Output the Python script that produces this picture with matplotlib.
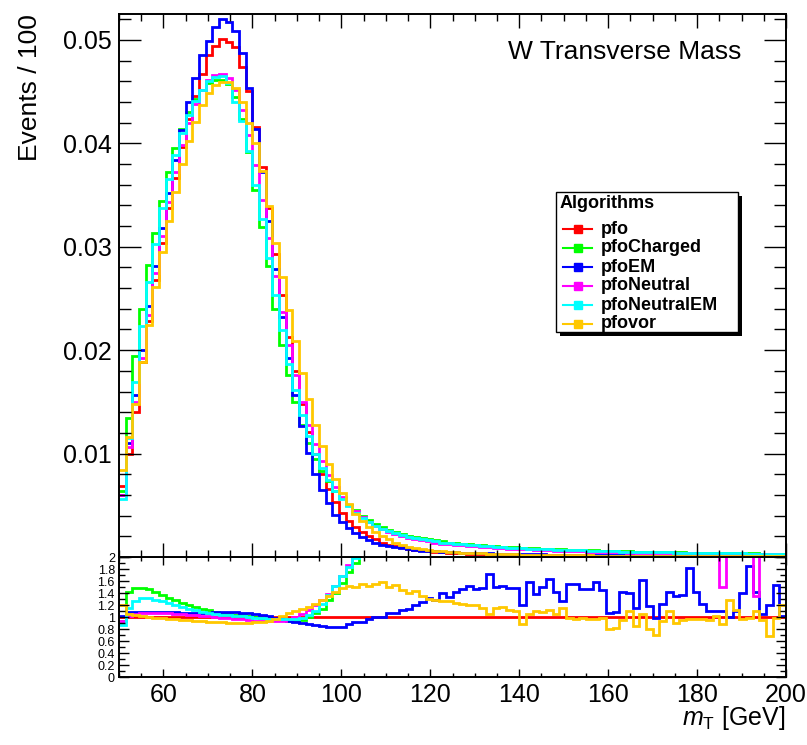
import matplotlib
matplotlib.use("Agg")
import matplotlib.pyplot as plt
from matplotlib.patches import Rectangle
from matplotlib.ticker import MultipleLocator
import numpy as np

plt.rcParams['font.family'] = ['Liberation Sans', 'DejaVu Sans']
plt.rcParams['mathtext.fontset'] = 'custom'
plt.rcParams['mathtext.it'] = 'Liberation Sans:italic'
plt.rcParams['mathtext.rm'] = 'Liberation Sans'

# 100 bins of 1.5 GeV from 50 to 200
edges = np.linspace(50, 200, 101)

names = ['pfo', 'pfoCharged', 'pfoEM', 'pfoNeutral', 'pfoNeutralEM', 'pfovor']
colors = ['#ff0000', '#00ff00', '#0000ff', '#ff00ff', '#00ffff', '#ffc800']

# normalised mT distributions (upper pad)
pfo = [0.0069, 0.0100, 0.0140, 0.0189, 0.0228, 0.0268, 0.0304, 0.0337, 0.0366, 0.0396,
       0.0423, 0.0446, 0.0467, 0.0485, 0.0494, 0.0501, 0.0498, 0.0493, 0.0474, 0.0451,
       0.0416, 0.0377, 0.0337, 0.0293, 0.0253, 0.0213, 0.0180, 0.0148, 0.0121, 0.0100,
       0.0080, 0.0066, 0.0053, 0.0043, 0.0035, 0.0029, 0.0024, 0.0020, 0.0017, 0.0014,
       0.0012, 0.00105, 0.00092, 0.00081, 0.00072, 0.00064, 0.00058, 0.00052, 0.00047, 0.00043,
       0.00039, 0.00036, 0.00033, 0.00031, 0.00029, 0.00027, 0.00025, 0.00024, 0.00022, 0.00021,
       0.00020, 0.00019, 0.00018, 0.00017, 0.00016, 0.00016, 0.00015, 0.00014, 0.00014, 0.00013,
       0.00013, 0.00012, 0.00012, 0.00011, 0.00011, 0.00011, 0.00010, 0.00010, 0.00010, 0.00009,
       0.00009, 0.00009, 0.00009, 0.00008, 0.00008, 0.00008, 0.00008, 0.00007, 0.00007, 0.00007,
       0.00007, 0.00007, 0.00006, 0.00006, 0.00006, 0.00006, 0.00006, 0.00006, 0.00005, 0.00005]

pfo_charged = [0.0064, 0.0134, 0.0194, 0.0240, 0.0282, 0.0313, 0.0344, 0.0372, 0.0395, 0.0414,
               0.0430, 0.0443, 0.0452, 0.0458, 0.0461, 0.0461, 0.0457, 0.0445, 0.0423, 0.0392,
               0.0355, 0.0319, 0.0281, 0.0240, 0.0205, 0.0176, 0.0150, 0.0128, 0.0110, 0.0095,
               0.0083, 0.0073, 0.0064, 0.0057, 0.0050, 0.0045, 0.0040, 0.0036, 0.0032, 0.0029,
               0.0026, 0.0024, 0.0022, 0.0020, 0.0019, 0.0018, 0.0017, 0.0016, 0.0015, 0.0014,
               0.00135, 0.0013, 0.00125, 0.0012, 0.00115, 0.0011, 0.00105, 0.0010, 0.00097, 0.00094,
               0.0009, 0.00087, 0.00084, 0.00081, 0.00078, 0.00076, 0.00073, 0.00071, 0.00069, 0.00067,
               0.00065, 0.00063, 0.00061, 0.00059, 0.00057, 0.00056, 0.00054, 0.00053, 0.00051, 0.0005,
               0.00049, 0.00047, 0.00046, 0.00045, 0.00044, 0.00043, 0.00042, 0.00041, 0.0004, 0.00039,
               0.00038, 0.00037, 0.00036, 0.00036, 0.00035, 0.00034, 0.00033, 0.00033, 0.00032, 0.00031]

pfo_em = [0.0060, 0.0110, 0.0157, 0.0200, 0.0243, 0.0281, 0.0318, 0.0352, 0.0384, 0.0413,
          0.0440, 0.0463, 0.0485, 0.0499, 0.0512, 0.0520, 0.0517, 0.0509, 0.0487, 0.0453,
          0.0414, 0.0372, 0.0325, 0.0278, 0.0232, 0.0192, 0.0157, 0.0127, 0.0101, 0.0080,
          0.0065, 0.0052, 0.0041, 0.0034, 0.0028, 0.0023, 0.0019, 0.0016, 0.0014, 0.0012,
          0.00105, 0.00093, 0.00083, 0.00075, 0.00068, 0.00062, 0.00058, 0.00054, 0.00050, 0.00047,
          0.00044, 0.00042, 0.00040, 0.00038, 0.00036, 0.00035, 0.00033, 0.00032, 0.00031, 0.00030,
          0.00028, 0.00027, 0.00026, 0.00025, 0.00024, 0.00023, 0.00022, 0.00021, 0.00020, 0.00019,
          0.00019, 0.00018, 0.00017, 0.00016, 0.00016, 0.00015, 0.00015, 0.00014, 0.00014, 0.00013,
          0.00013, 0.00013, 0.00012, 0.00012, 0.00012, 0.00011, 0.00011, 0.00011, 0.00010, 0.00010,
          0.00010, 0.00010, 0.00010, 0.00009, 0.00009, 0.00009, 0.00009, 0.00009, 0.00008, 0.00008]

pfo_neutral = [0.0060, 0.0106, 0.0150, 0.0192, 0.0234, 0.0275, 0.0310, 0.0343, 0.0372, 0.0398,
               0.0420, 0.0438, 0.0452, 0.0461, 0.0466, 0.0467, 0.0463, 0.0452, 0.0432, 0.0408,
               0.0379, 0.0345, 0.0308, 0.0272, 0.0237, 0.0205, 0.0176, 0.0150, 0.0128, 0.0109,
               0.0093, 0.0079, 0.0068, 0.0058, 0.0050, 0.0044, 0.0039, 0.0034, 0.0030, 0.0027,
               0.0024, 0.0022, 0.0020, 0.0018, 0.0017, 0.0016, 0.0015, 0.0014, 0.0013, 0.00125,
               0.0012, 0.00114, 0.00108, 0.00103, 0.00098, 0.00094, 0.0009, 0.00086, 0.00082, 0.00079,
               0.00076, 0.00073, 0.0007, 0.00067, 0.00065, 0.00062, 0.0006, 0.00058, 0.00056, 0.00054,
               0.00052, 0.0005, 0.00049, 0.00047, 0.00046, 0.00044, 0.00043, 0.00042, 0.00041, 0.0004,
               0.00039, 0.00038, 0.00037, 0.00036, 0.00035, 0.00034, 0.00033, 0.00032, 0.00031, 0.0003,
               0.0003, 0.00029, 0.00028, 0.00028, 0.00027, 0.00026, 0.00026, 0.00025, 0.00025, 0.00024]

pfo_neutral_em = [0.0056, 0.0115, 0.0169, 0.0223, 0.0266, 0.0303, 0.0337, 0.0365, 0.0389, 0.0410,
                  0.0427, 0.0441, 0.0452, 0.0460, 0.0464, 0.0465, 0.0458, 0.0440, 0.0422, 0.0393,
                  0.0360, 0.0327, 0.0289, 0.0253, 0.0219, 0.0187, 0.0161, 0.0137, 0.0117, 0.0100,
                  0.0086, 0.0074, 0.0064, 0.0056, 0.0049, 0.0043, 0.0038, 0.0034, 0.0030, 0.0027,
                  0.0025, 0.0023, 0.0021, 0.0019, 0.0018, 0.0017, 0.0016, 0.0015, 0.0014, 0.00135,
                  0.0013, 0.00124, 0.00118, 0.00113, 0.00108, 0.00103, 0.00099, 0.00095, 0.00091, 0.00088,
                  0.00085, 0.00082, 0.00079, 0.00076, 0.00073, 0.00071, 0.00069, 0.00067, 0.00065, 0.00063,
                  0.00061, 0.00059, 0.00057, 0.00055, 0.00054, 0.00052, 0.00051, 0.00049, 0.00048, 0.00047,
                  0.00046, 0.00045, 0.00044, 0.00043, 0.00042, 0.00041, 0.0004, 0.00039, 0.00038, 0.00037,
                  0.00036, 0.00035, 0.00035, 0.00034, 0.00033, 0.00032, 0.00032, 0.00031, 0.0003, 0.0003]

pfo_vor = [0.0084, 0.0116, 0.0148, 0.0189, 0.0224, 0.0261, 0.0295, 0.0325, 0.0353, 0.0380,
           0.0402, 0.0421, 0.0437, 0.0449, 0.0456, 0.0459, 0.0459, 0.0453, 0.0440, 0.0420,
           0.0400, 0.0373, 0.0339, 0.0304, 0.0271, 0.0239, 0.0209, 0.0178, 0.0153, 0.0128,
           0.0107, 0.0090, 0.0075, 0.0062, 0.0051, 0.0042, 0.0035, 0.0029, 0.0024, 0.0020,
           0.0017, 0.0014, 0.0012, 0.0010, 0.00088, 0.00077, 0.00068, 0.00061, 0.00055, 0.0005,
           0.00046, 0.00042, 0.00039, 0.00036, 0.00034, 0.00032, 0.0003, 0.00028, 0.00026, 0.00025,
           0.00024, 0.00023, 0.00022, 0.00021, 0.0002, 0.00019, 0.00018, 0.00017, 0.00016, 0.00016,
           0.00015, 0.00014, 0.00014, 0.00013, 0.00012, 0.00012, 0.00011, 0.00011, 0.0001, 0.0001,
           0.0001, 0.00009, 0.00009, 0.00009, 0.00008, 0.00008, 0.00008, 0.00008, 0.00007, 0.00007,
           0.00007, 0.00007, 0.00007, 0.00006, 0.00006, 0.00006, 0.00006, 0.00006, 0.00006, 0.00006]

# ratio to pfo (lower pad)
ratio_charged = [0.93, 1.42, 1.49, 1.48, 1.46, 1.42, 1.37, 1.32, 1.28, 1.24,
                 1.20, 1.17, 1.14, 1.11, 1.09, 1.07, 1.05, 1.04, 1.03, 1.01,
                 1.00, 0.98, 0.97, 0.96, 0.95, 0.94, 0.93, 0.95, 1.00, 1.06,
                 1.14, 1.28, 1.40, 1.56, 1.75, 1.90, 2.15, 2.4, 2.6, 2.8,
                 3.0, 3.1, 3.2, 3.3, 3.4, 3.5, 3.5, 3.6, 3.6, 3.7,
                 3.7, 3.8, 3.8, 3.8, 3.9, 3.9, 3.9, 4.0, 4.0, 4.0,
                 4.0, 4.0, 4.1, 4.1, 4.1, 4.1, 4.1, 4.1, 4.2, 4.2,
                 4.2, 4.2, 4.2, 4.2, 4.2, 4.2, 4.2, 4.2, 4.2, 4.2,
                 4.2, 4.2, 4.2, 4.2, 4.2, 4.2, 4.2, 4.2, 4.2, 4.2,
                 4.2, 4.2, 4.2, 4.2, 4.2, 4.2, 4.2, 4.2, 4.2, 4.2]

ratio_em = [1.02, 1.08, 1.09, 1.09, 1.09, 1.09, 1.08, 1.08, 1.08, 1.07,
            1.07, 1.07, 1.07, 1.07, 1.08, 1.08, 1.08, 1.08, 1.07, 1.06,
            1.05, 1.04, 1.02, 0.99, 0.96, 0.94, 0.92, 0.90, 0.88, 0.86,
            0.85, 0.83, 0.83, 0.84, 0.89, 0.92, 0.92, 0.96, 1.00, 1.00,
            1.07, 1.07, 1.12, 1.14, 1.20, 1.25, 1.32, 1.28, 1.40, 1.33,
            1.42, 1.47, 1.52, 1.46, 1.48, 1.72, 1.50, 1.52, 1.48, 1.48,
            1.20, 1.58, 1.38, 1.50, 1.64, 1.42, 1.27, 1.55, 1.55, 1.47,
            1.47, 1.58, 1.45, 1.07, 1.09, 1.42, 1.40, 1.15, 1.62, 1.18,
            0.98, 1.22, 1.42, 1.35, 1.37, 1.82, 1.42, 1.22, 1.10, 1.10,
            1.10, 1.00, 1.10, 1.40, 1.85, 1.42, 1.05, 1.20, 1.53, 1.02]

ratio_neutral = [0.93, 1.02, 1.05, 1.06, 1.07, 1.07, 1.06, 1.06, 1.05, 1.05,
                 1.04, 1.03, 1.02, 1.01, 1.00, 0.99, 0.98, 0.97, 0.96, 0.95,
                 0.94, 0.93, 0.93, 0.93, 0.94, 0.96, 1.00, 1.05, 1.12, 1.20,
                 1.28, 1.38, 1.52, 1.68, 1.86, 2.05, 2.3, 2.5, 2.7, 2.9,
                 3.0, 3.1, 3.2, 3.3, 3.4, 3.4, 3.5, 3.5, 3.6, 3.6,
                 3.6, 3.7, 3.7, 3.7, 3.8, 3.8, 3.8, 3.8, 3.9, 3.9,
                 3.9, 3.9, 3.9, 3.9, 4.0, 4.0, 4.0, 4.0, 4.0, 4.0,
                 4.0, 4.0, 4.0, 4.0, 4.0, 4.0, 4.0, 4.0, 4.0, 4.0,
                 4.0, 4.0, 4.0, 4.0, 4.0, 4.0, 4.0, 4.0, 4.0, 2.6,
                 1.50, 2.4, 4.0, 4.0, 2.5, 1.35, 2.5, 4.0, 4.0, 4.0]

ratio_neutral_em = [0.86, 1.15, 1.27, 1.32, 1.31, 1.29, 1.26, 1.23, 1.20, 1.17,
                    1.14, 1.11, 1.09, 1.07, 1.05, 1.04, 1.03, 1.02, 1.01, 1.00,
                    0.99, 0.98, 0.97, 0.97, 0.96, 0.96, 0.97, 0.99, 1.03, 1.10,
                    1.22, 1.36, 1.52, 1.68, 1.83, 1.99, 2.2, 2.4, 2.6, 2.8,
                    3.0, 3.1, 3.2, 3.3, 3.4, 3.4, 3.5, 3.5, 3.6, 3.6,
                    3.6, 3.7, 3.7, 3.7, 3.8, 3.8, 3.8, 3.8, 3.9, 3.9,
                    3.9, 3.9, 3.9, 3.9, 4.0, 4.0, 4.0, 4.0, 4.0, 4.0,
                    4.0, 4.0, 4.0, 4.0, 4.0, 4.0, 4.0, 4.0, 4.0, 4.0,
                    4.0, 4.0, 4.0, 4.0, 4.0, 4.0, 4.0, 4.0, 4.0, 4.0,
                    4.0, 4.0, 4.0, 4.0, 4.0, 4.0, 4.0, 4.0, 4.0, 4.0]

ratio_vor = [1.20, 1.05, 1.04, 1.02, 1.00, 0.99, 0.98, 0.97, 0.96, 0.95,
             0.95, 0.94, 0.93, 0.92, 0.92, 0.91, 0.90, 0.90, 0.90, 0.90,
             0.91, 0.92, 0.94, 0.97, 1.02, 1.07, 1.10, 1.13, 1.17, 1.22,
             1.28, 1.35, 1.42, 1.48, 1.52, 1.50, 1.55, 1.52, 1.55, 1.58,
             1.50, 1.53, 1.45, 1.40, 1.43, 1.35, 1.30, 1.28, 1.27, 1.27,
             1.24, 1.21, 1.20, 1.20, 1.15, 1.05, 1.15, 1.16, 1.12, 1.10,
             0.88, 1.05, 1.10, 1.08, 1.12, 1.05, 1.15, 0.98, 0.97, 0.98,
             0.96, 0.96, 0.99, 0.80, 0.82, 0.95, 1.10, 0.85, 1.05, 0.80,
             0.70, 0.93, 1.10, 0.90, 0.95, 0.97, 0.97, 0.97, 0.95, 1.02,
             0.88, 1.28, 1.12, 0.97, 0.98, 1.10, 0.95, 0.68, 0.98, 1.20]

series = [pfo, pfo_charged, pfo_em, pfo_neutral, pfo_neutral_em, pfo_vor]
ratios = [np.ones(len(pfo)), ratio_charged, ratio_em, ratio_neutral, ratio_neutral_em, ratio_vor]

W, H = 807, 745
fig = plt.figure(figsize=(W / 100, H / 100), dpi=100)


def pixel_axes(left, top, right, bottom):
    return fig.add_axes([left / W, 1 - bottom / H, (right - left) / W, (bottom - top) / H])


rax = pixel_axes(119, 557, 786, 677)
ax = pixel_axes(119, 14, 786, 557)

for vals, c in zip(series, colors):
    ax.stairs(vals, edges, color=c, lw=2, baseline=None)
for vals, c in zip(ratios, colors):
    rax.stairs(vals, edges, color=c, lw=2, baseline=None)

ax.set_xlim(50, 200)
ax.set_ylim(0, 0.0525)
rax.set_xlim(50, 200)
rax.set_ylim(0, 2)

for a in (ax, rax):
    for s in a.spines.values():
        s.set_linewidth(1.4)
    a.xaxis.set_major_locator(MultipleLocator(20))
    a.xaxis.set_minor_locator(MultipleLocator(5))
    a.tick_params(which='both', direction='in', top=True, right=True, width=1.0)

ax.yaxis.set_major_locator(MultipleLocator(0.01))
ax.yaxis.set_minor_locator(MultipleLocator(0.002))
ax.set_yticks([0.01, 0.02, 0.03, 0.04, 0.05])
ax.set_yticklabels(['0.01', '0.02', '0.03', '0.04', '0.05'])
ax.tick_params(axis='x', which='major', length=10)
ax.tick_params(axis='x', which='minor', length=5)
ax.tick_params(axis='y', which='major', length=16)
ax.tick_params(axis='y', which='minor', length=8.5)
ax.tick_params(axis='x', labelbottom=False)
ax.tick_params(axis='y', labelsize=18, pad=5)

rax.set_yticks(np.arange(0, 2.01, 0.2))
rax.set_yticklabels(['0', '0.2', '0.4', '0.6', '0.8', '1', '1.2', '1.4', '1.6', '1.8', '2'])
rax.yaxis.set_minor_locator(MultipleLocator(0.1))
rax.tick_params(axis='x', which='major', length=6)
rax.tick_params(axis='x', which='minor', length=3)
rax.tick_params(axis='y', which='major', length=7)
rax.tick_params(axis='y', which='minor', length=4)
rax.tick_params(axis='x', labelsize=18, pad=4)
rax.tick_params(axis='y', labelsize=9, pad=3)

fig.text(30 / W, 1 - 14 / H, 'Events / 100', rotation=90, ha='center', va='top', fontsize=19)
fig.text(785 / W, 1 - 718 / H, r'$m_{\mathrm{T}}$ [GeV]', ha='right', va='center', fontsize=18)
fig.text(625 / W, 1 - 52 / H, 'W Transverse Mass', ha='center', va='center', fontsize=19)

# legend box drawn in pixel coordinates
ov = fig.add_axes([0, 0, 1, 1], facecolor='none')
ov.set_xlim(0, W)
ov.set_ylim(H, 0)
ov.axis('off')
ov.add_patch(Rectangle((560, 196), 182, 140, facecolor='black', edgecolor='none'))
ov.add_patch(Rectangle((556, 192), 182, 140, facecolor='white', edgecolor='black', lw=1))
ov.text(560, 204, 'Algorithms', fontsize=13, fontweight='bold', va='center', ha='left')
for k, (name, c) in enumerate(zip(names, colors)):
    y = 229 + 19 * k
    ov.plot([563, 592], [y, y], color=c, lw=1.5)
    ov.plot([577.5], [y], 's', color=c, ms=6)
    ov.text(601, y, name, fontsize=13, fontweight='bold', va='center', ha='left')

fig.savefig('out.png', dpi=100)
